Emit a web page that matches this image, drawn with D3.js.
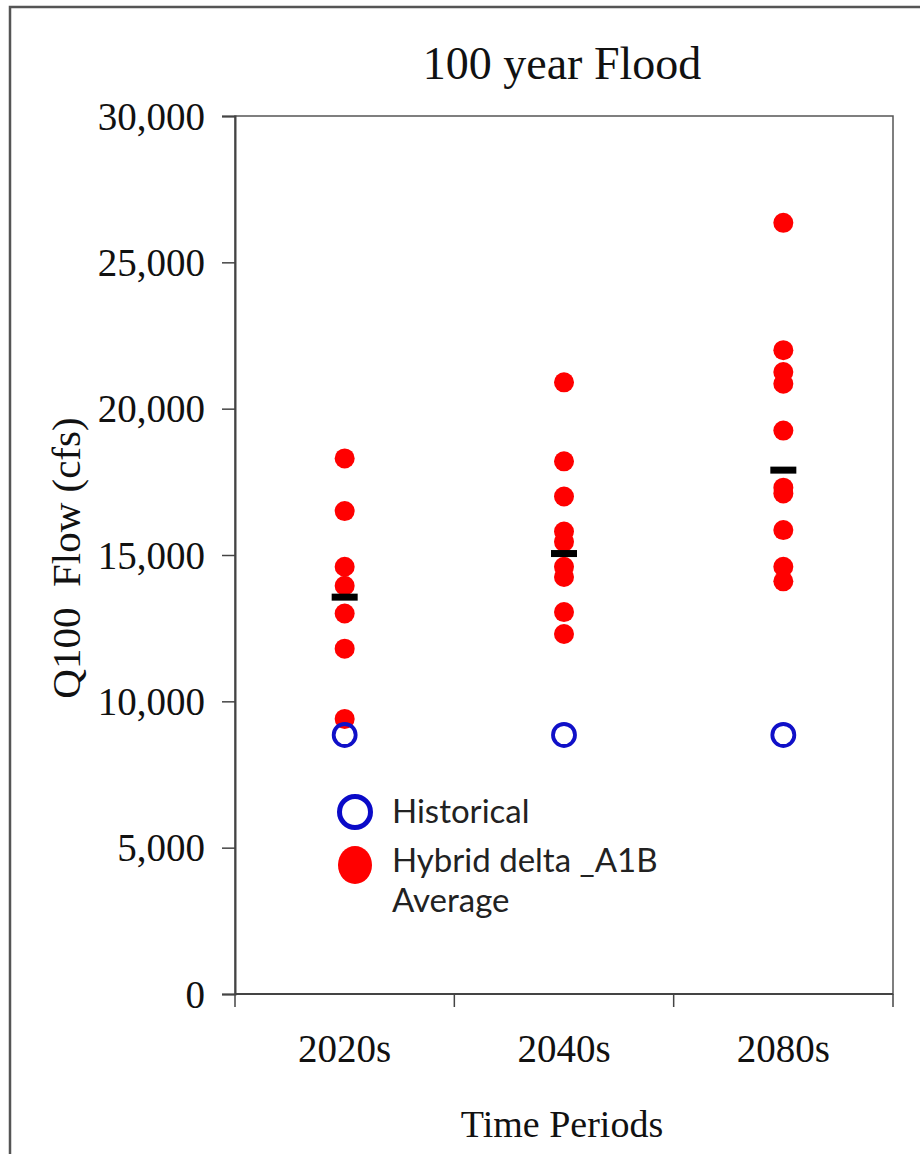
<!DOCTYPE html>
<html>
<head>
<meta charset="utf-8">
<script src="https://cdn.jsdelivr.net/npm/d3@7"></script>
<style>
  body { margin: 0; background: #fff; }
  svg { display: block; }
</style>
</head>
<body>
<div id="chart"></div>
<script>
// values (cfs)
const periods = ["2020s", "2040s", "2080s"];
const hybrid2020s = [18300, 16500, 14600, 13950, 13000, 11800, 9400];
const hybrid2040s = [20900, 18200, 17000, 15800, 15450, 14600, 14250, 13050, 12300];
const hybrid2080s = [26350, 22000, 21250, 20850, 19250, 17300, 17100, 15850, 14600, 14100];
const historical = [8850, 8850, 8850];
const averages = [13560, 15050, 17900];
const yTicks = [0, 5000, 10000, 15000, 20000, 25000, 30000];
const legendLabels = ["Historical", "Hybrid delta _A1B", "Average"];

const width = 920, height = 1154;
const margin = { top: 116, right: 27, bottom: 160, left: 235 };
const serif = "'Liberation Serif', 'Times New Roman', serif";
const sans = "Lato, 'Liberation Sans', sans-serif";
const axisColor = "#444";

const svg = d3.select("#chart").append("svg")
  .attr("width", width)
  .attr("height", height);

// outer frame (only left and top edges are inside the picture)
svg.append("path")
  .attr("d", `M10,${height} L10,7 L${width},7`)
  .attr("fill", "none")
  .attr("stroke", "#555")
  .attr("stroke-width", 2.5);

const x = d3.scaleBand()
  .domain(periods)
  .range([margin.left, width - margin.right])
  .padding(0);

const y = d3.scaleLinear()
  .domain([0, 30000])
  .range([height - margin.bottom, margin.top]);

// plot area box
svg.append("rect")
  .attr("x", margin.left)
  .attr("y", margin.top)
  .attr("width", width - margin.right - margin.left)
  .attr("height", height - margin.bottom - margin.top)
  .attr("fill", "none")
  .attr("stroke", "#555")
  .attr("stroke-width", 1.5);

// y axis
const yAxis = svg.append("g")
  .attr("transform", `translate(${margin.left},0)`)
  .call(d3.axisLeft(y).tickValues(yTicks).tickSize(13).tickPadding(17)
    .tickFormat(d3.format(",")));
yAxis.select(".domain").attr("stroke", axisColor).attr("stroke-width", 2);
yAxis.selectAll(".tick line").attr("stroke", axisColor).attr("stroke-width", 1.5);
yAxis.selectAll(".tick text")
  .attr("fill", "#111")
  .style("font-family", serif)
  .style("font-size", "39px")
  .attr("dy", "0.34em");

// x axis: ticks sit on band edges, labels at band centres
const xAxis = svg.append("g")
  .attr("transform", `translate(0,${height - margin.bottom})`);
xAxis.append("line")
  .attr("x1", margin.left).attr("x2", width - margin.right)
  .attr("stroke", axisColor).attr("stroke-width", 2);
const edges = periods.map(p => x(p)).concat([x.range()[1]]);
xAxis.selectAll(".edge-tick")
  .data(edges)
  .enter().append("line")
  .attr("class", "edge-tick")
  .attr("x1", d => d).attr("x2", d => d)
  .attr("y1", 0).attr("y2", 13)
  .attr("stroke", axisColor).attr("stroke-width", 1.5);
xAxis.selectAll(".xlabel")
  .data(periods)
  .enter().append("text")
  .attr("class", "xlabel")
  .attr("x", d => x(d) + x.bandwidth() / 2)
  .attr("y", 68)
  .attr("text-anchor", "middle")
  .attr("fill", "#111")
  .style("font-family", serif)
  .style("font-size", "39px")
  .text(d => d);

// titles
svg.append("text")
  .attr("x", 562).attr("y", 79)
  .attr("text-anchor", "middle")
  .attr("fill", "#111")
  .style("font-family", serif)
  .style("font-size", "46px")
  .text("100 year Flood");

svg.append("text")
  .attr("x", 562).attr("y", 1137)
  .attr("text-anchor", "middle")
  .attr("fill", "#111")
  .style("font-family", serif)
  .style("font-size", "38px")
  .text("Time Periods");

svg.append("text")
  .attr("transform", `translate(80,${(margin.top + height - margin.bottom) / 2 + 3}) rotate(-90)`)
  .attr("text-anchor", "middle")
  .attr("fill", "#111")
  .style("font-family", serif)
  .style("font-size", "41px")
  .style("white-space", "pre")
  .text("Q100  Flow (cfs)");

// hybrid delta points
const hybridSeries = [hybrid2020s, hybrid2040s, hybrid2080s];
const hybridPoints = hybridSeries.flatMap((vals, i) =>
  vals.map(v => ({ period: periods[i], value: v })));

svg.append("g").selectAll("circle")
  .data(hybridPoints)
  .enter().append("circle")
  .attr("cx", d => x(d.period) + x.bandwidth() / 2)
  .attr("cy", d => y(d.value))
  .attr("r", 10)
  .attr("fill", "#ff0000");

// averages
svg.append("g").selectAll("rect")
  .data(averages)
  .enter().append("rect")
  .attr("x", (d, i) => x(periods[i]) + x.bandwidth() / 2 - 13)
  .attr("y", d => y(d) - 3.5)
  .attr("width", 26)
  .attr("height", 7)
  .attr("fill", "#000");

// historical
svg.append("g").selectAll("circle")
  .data(historical)
  .enter().append("circle")
  .attr("cx", (d, i) => x(periods[i]) + x.bandwidth() / 2)
  .attr("cy", d => y(d))
  .attr("r", 11)
  .attr("fill", "none")
  .attr("stroke", "#1010c8")
  .attr("stroke-width", 3.8);

// legend
const legend = svg.append("g");
legend.append("circle")
  .attr("cx", 355).attr("cy", 812).attr("r", 15.5)
  .attr("fill", "none")
  .attr("stroke", "#0a0ac8")
  .attr("stroke-width", 5);
legend.append("ellipse")
  .attr("cx", 355).attr("cy", 865).attr("rx", 17).attr("ry", 19)
  .attr("fill", "#ff0000");
const legendBaselines = [823, 872, 912];
legend.selectAll("text")
  .data(legendLabels)
  .enter().append("text")
  .attr("x", 392)
  .attr("y", (d, i) => legendBaselines[i])
  .attr("fill", "#222")
  .style("font-family", sans)
  .style("font-size", "33px")
  .text(d => d);
</script>
</body>
</html>
